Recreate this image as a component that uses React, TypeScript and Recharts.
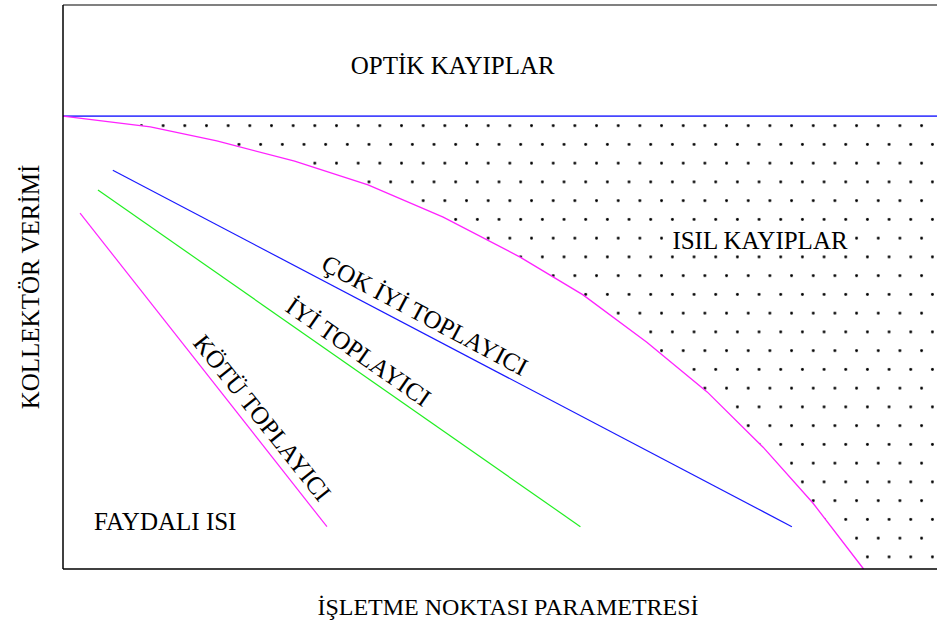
import React from 'react';
import {
  ComposedChart,
  Line,
  Area,
  XAxis,
  YAxis,
  ReferenceLine,
  ReferenceDot,
} from 'recharts';

const FONT = '"Liberation Serif", "Times New Roman", Times, serif';

// Upper limit of useful heat: thermal-loss boundary (efficiency vs. operating parameter)
const lossCurveX = [0, 10, 17.6, 26.5, 34.9, 43.5, 52.3, 59.5, 66.8, 73.7, 80.1, 85.8, 91.6];
const lossCurveY = [80.3, 78.4, 75.9, 72.3, 68.1, 62.4, 55.3, 48.6, 40.2, 31.4, 21.6, 11.7, 0];

// Level left after optical losses
const opticalLimit = 80.3;
const xDomain = [0, 100];
const yDomain = [0, 100];

// Collector efficiency lines
const collectorNames = ['ÇOK İYİ TOPLAYICI', 'İYİ TOPLAYICI', 'KÖTÜ TOPLAYICI'];
const collectorStartX = [5.7, 4.0, 1.95];
const collectorStartY = [70.7, 67.2, 63.1];
const collectorEndX = [83.4, 59.2, 30.2];
const collectorEndY = [7.5, 7.5, 7.5];

// Region names
const regionNames = ['OPTİK KAYIPLAR', 'ISIL KAYIPLAR', 'FAYDALI ISI'];

const xAxisTitle = 'İŞLETME NOKTASI PARAMETRESİ';
const yAxisTitle = 'KOLLEKTÖR VERİMİ';

// ---- styling / placement ----
const collectorColors = ['#1a1aff', '#22ee22', '#ff22ff'];
const curveColor = '#ff22ff';
const opticColor = '#4646ff';

// label anchor (data units) and rotation for each collector line label
const collectorLabelX = [41.4, 33.8, 22.8];
const collectorLabelY = [45.0, 38.5, 26.8];
const collectorLabelAngle = [28, 35, 51.5];

const regionLabelX = [44.6, 79.75, 11.7];
const regionLabelY = [89.2, 58.2, 8.5];

const lossCurve = lossCurveX.map((x, i) => ({ x, y: lossCurveY[i] }));
const lossBand = [
  ...lossCurveX.map((x, i) => ({ x, band: [lossCurveY[i], opticalLimit] })),
  { x: xDomain[1], band: [0, opticalLimit] },
];
const collectors = collectorNames.map((name, i) => ({
  name,
  data: [
    { x: collectorStartX[i], y: collectorStartY[i] },
    { x: collectorEndX[i], y: collectorEndY[i] },
  ],
}));

type TextProps = {
  viewBox?: { x: number; y: number; width?: number; height?: number };
  text: string;
  angle?: number;
  boxed?: boolean;
};

const PlotText = ({ viewBox, text, angle = 0, boxed = false }: TextProps) => {
  if (!viewBox) return null;
  const cx = viewBox.x + (viewBox.width || 0) / 2;
  const cy = viewBox.y + (viewBox.height || 0) / 2;
  const w = text.length * 14.2;
  return (
    <g transform={`rotate(${angle} ${cx} ${cy})`}>
      {boxed && <rect x={cx - w / 2 - 2} y={cy - 11} width={w + 4} height={21} fill="#fff" />}
      <text
        x={cx}
        y={cy}
        textAnchor="middle"
        dominantBaseline="central"
        fontFamily={FONT}
        fontSize={25}
        fill="#000"
      >
        {text}
      </text>
    </g>
  );
};

export default function App() {
  return (
    <div style={{ position: 'absolute', left: 0, top: 0, width: 937, height: 626, background: '#fff' }}>
      <ComposedChart width={937} height={626} margin={{ top: 5, right: 0, bottom: 0, left: 0 }}>
        <defs>
          <pattern
            id="heatDots"
            patternUnits="userSpaceOnUse"
            x={276.9}
            y={116.3}
            width={21.67}
            height={37.5}
          >
            <circle cx={16.25} cy={9.375} r={1.45} fill="#000" />
            <circle cx={5.42} cy={28.125} r={1.45} fill="#000" />
          </pattern>
        </defs>
        <XAxis
          type="number"
          dataKey="x"
          domain={xDomain}
          height={57}
          tick={false}
          tickLine={false}
          axisLine={{ stroke: '#000', strokeWidth: 1.5 }}
          label={(p: any) => (
            <text
              x={p.viewBox.x + p.viewBox.width / 2 + 8}
              y={p.viewBox.y + 38}
              textAnchor="middle"
              dominantBaseline="central"
              fontFamily={FONT}
              fontSize={24}
              fill="#000"
            >
              {xAxisTitle}
            </text>
          )}
        />
        <YAxis
          type="number"
          domain={yDomain}
          width={63}
          tick={false}
          tickLine={false}
          axisLine={{ stroke: '#000', strokeWidth: 1.5 }}
          label={(p: any) => (
            <text
              x={30}
              y={p.viewBox.y + p.viewBox.height / 2}
              transform={`rotate(-90 30 ${p.viewBox.y + p.viewBox.height / 2})`}
              textAnchor="middle"
              dominantBaseline="central"
              fontFamily={FONT}
              fontSize={25}
              fill="#000"
            >
              {yAxisTitle}
            </text>
          )}
        />
        <ReferenceLine y={yDomain[1]} stroke="#808080" strokeWidth={2} />

        <Area
          data={lossBand}
          dataKey="band"
          type="linear"
          stroke="none"
          fill="url(#heatDots)"
          fillOpacity={1}
          isAnimationActive={false}
          activeDot={false}
        />
        <ReferenceLine y={opticalLimit} stroke={opticColor} strokeWidth={1.6} />
        <Line
          data={lossCurve}
          dataKey="y"
          type="linear"
          stroke={curveColor}
          strokeWidth={1.3}
          dot={false}
          activeDot={false}
          isAnimationActive={false}
        />
        {collectors.map((c, i) => (
          <Line
            key={c.name}
            data={c.data}
            dataKey="y"
            name={c.name}
            type="linear"
            stroke={collectorColors[i]}
            strokeWidth={1.2}
            dot={false}
            activeDot={false}
            isAnimationActive={false}
          />
        ))}

        {regionNames.map((name, i) => (
          <ReferenceDot
            key={name}
            x={regionLabelX[i]}
            y={regionLabelY[i]}
            r={0}
            fill="none"
            stroke="none"
            label={(p: any) => <PlotText viewBox={p.viewBox} text={name} boxed={i === 1} />}
          />
        ))}
        {collectorNames.map((name, i) => (
          <ReferenceDot
            key={name}
            x={collectorLabelX[i]}
            y={collectorLabelY[i]}
            r={0}
            fill="none"
            stroke="none"
            label={(p: any) => (
              <PlotText viewBox={p.viewBox} text={name} angle={collectorLabelAngle[i]} />
            )}
          />
        ))}
      </ComposedChart>
    </div>
  );
}
